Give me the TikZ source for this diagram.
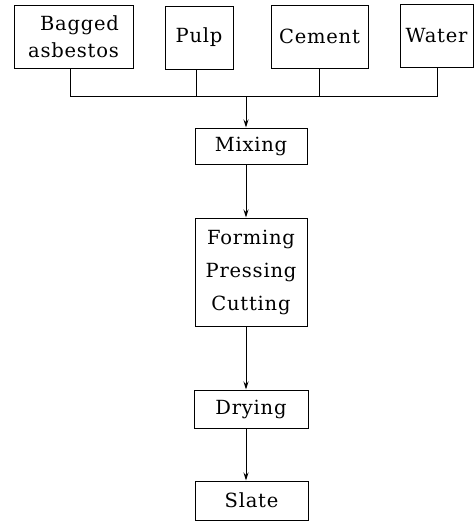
\documentclass[tikz,border=0pt]{standalone}
\usepackage{fontspec}
\setmainfont{DejaVu Serif}[LetterSpace=4]
\usetikzlibrary{arrows.meta}
\begin{document}
\begin{tikzpicture}[x=1pt,y=-1pt,
  box/.style={draw,line width=1pt,inner sep=0pt,font=\fontsize{19.5}{27}\selectfont},
  flow/.style={line width=0.9pt,-{Stealth[length=8pt,width=5pt]}},
  link/.style={line width=0.9pt}]
\useasboundingbox (0,0) rectangle (475,522);
\node[box,minimum width=119pt,minimum height=63pt,align=right] (bag) at (73.5,36.5) {Bagged\\asbestos};
\node[box,minimum width=68pt,minimum height=63pt] (pulp) at (199,37.5) {Pulp};
\node[box,minimum width=97pt,minimum height=63pt] (cem) at (319.5,36.5) {Cement};
\node[box,minimum width=73pt,minimum height=63pt] (water) at (436.5,35.5) {Water};
\node[box,minimum width=112pt,minimum height=36pt] (mix) at (251,146) {Mixing};
\node[box,minimum width=112pt,minimum height=108pt,align=center,font=\fontsize{19.5}{33}\selectfont] (form) at (251,272) {Forming\\Pressing\\Cutting};
\node[box,minimum width=114pt,minimum height=38pt] (dry) at (251,409) {Drying};
\node[box,minimum width=113pt,minimum height=39pt] (slate) at (251.5,500.5) {Slate};
\coordinate (sp) at (246,96.5);
\coordinate (bl) at (70,96.5);
\coordinate (br) at (437.5,96.5);
\draw[link] (bag.south -| bl) -- (bl) -- (br) -- (water.south -| br);
\draw[link] (pulp.south -| 196,0) -- (196,96.5);
\draw[link] (cem.south -| 319,0) -- (319,96.5);
\draw[flow] (sp) -- (mix.north -| sp);
\draw[flow] (mix.south -| sp) -- (form.north -| sp);
\draw[flow] (form.south -| sp) -- (dry.north -| sp);
\draw[flow] (dry.south -| sp) -- (slate.north -| sp);
\end{tikzpicture}
\end{document}
